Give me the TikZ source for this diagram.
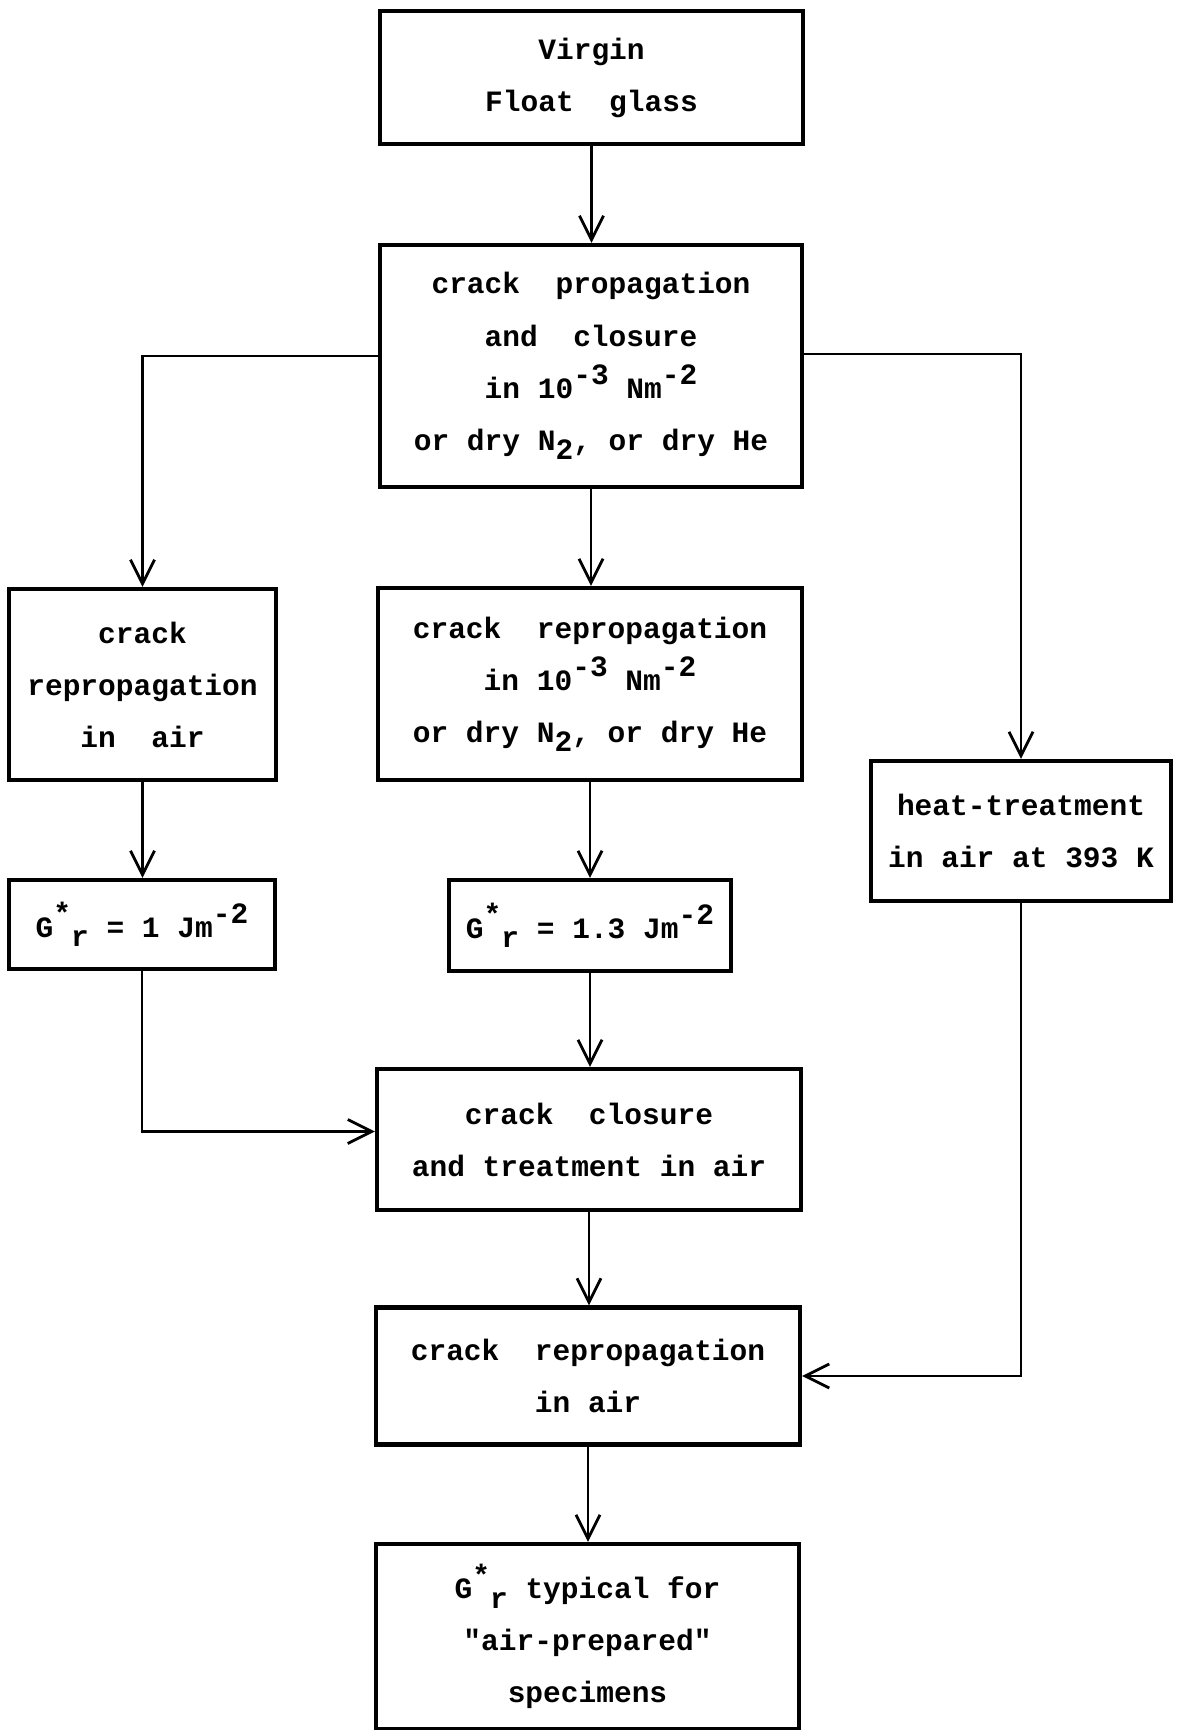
\documentclass[tikz,border=0pt]{standalone}
\usepackage{fontspec}
\usepackage{tikz}
\usetikzlibrary{arrows.meta}
\newfontfamily\typed{Liberation Mono}
% typed-style raised and lowered indices, full size
\newcommand{\supx}[1]{\raisebox{0.85ex}{#1}}
\newcommand{\subx}[1]{\raisebox{-0.6ex}{#1}}
\newcommand{\Gstar}{G\supx{*}\subx{r}}
\tikzset{
  box/.style={draw, line width=1.2pt, align=center, inner sep=0pt,
    font=\fontsize{8.4}{14.8}\selectfont\typed\bfseries},
  arr/.style={draw, line width=0.8pt, line cap=round,
    -{Straight Barb[length=2.4mm,width=2.4mm,line width=0.8pt]}},
}
\begin{document}
\begin{tikzpicture}
  \useasboundingbox (0,0) rectangle (11.79,-17.30);

  % main column
  \node[box, minimum width=4.23cm, minimum height=1.33cm] (virgin) at (5.915,-0.776)
    {Virgin\\Float\ \ glass};
  \node[box, minimum width=4.22cm, minimum height=2.42cm] (prop) at (5.91,-3.66)
    {crack\ \ propagation\\and\ \ closure\\in 10\supx{-3} Nm\supx{-2}\\or dry N\subx{2}, or dry He};
  \node[box, minimum width=4.24cm, minimum height=1.92cm] (reprop) at (5.90,-6.84)
    {crack\ \ repropagation\\in 10\supx{-3} Nm\supx{-2}\\or dry N\subx{2}, or dry He};
  \node[box, minimum width=2.82cm, minimum height=0.91cm] (grvac) at (5.90,-9.255)
    {\Gstar\ = 1.3 Jm\supx{-2}};
  \node[box, minimum width=4.24cm, minimum height=1.41cm] (closure) at (5.89,-11.395)
    {crack\ \ closure\\and treatment in air};
  \node[box, minimum width=4.24cm, minimum height=1.37cm] (reair) at (5.88,-13.76)
    {crack\ \ repropagation\\in air};
  \node[box, minimum width=4.23cm, minimum height=1.85cm] (typical) at (5.875,-16.365)
    {\Gstar\ typical for\\"air-prepared"\\specimens};

  % left branch
  \node[box, minimum width=2.67cm, minimum height=1.91cm] (leftair) at (1.425,-6.845)
    {crack\\repropagation\\in\ \ air};
  \node[box, minimum width=2.66cm, minimum height=0.89cm] (grair) at (1.42,-9.245)
    {\Gstar\ = 1 Jm\supx{-2}};

  % right branch
  \node[box, minimum width=3.00cm, minimum height=1.40cm] (heat) at (10.21,-8.31)
    {heat-treatment\\in air at 393 K};

  % connectors
  \draw[arr] (virgin.south) -- (virgin.south |- prop.north);
  \draw[arr] (prop.south) -- (prop.south |- reprop.north);
  \draw[arr] (reprop.south) -- (reprop.south |- grvac.north);
  \draw[arr] (grvac.south) -- (grvac.south |- closure.north);
  \draw[arr] (closure.south) -- (closure.south |- reair.north);
  \draw[arr] (reair.south) -- (reair.south |- typical.north);
  \draw[arr] ([yshift=1mm]prop.west) -| (leftair.north);
  \draw[arr] (leftair.south) -- (leftair.south |- grair.north);
  \draw[arr] (grair.south) |- ([yshift=0.8mm]closure.west);
  \draw[arr] ([yshift=1.2mm]prop.east) -| (heat.north);
  \draw[arr] (heat.south) |- (reair.east);
\end{tikzpicture}
\end{document}
